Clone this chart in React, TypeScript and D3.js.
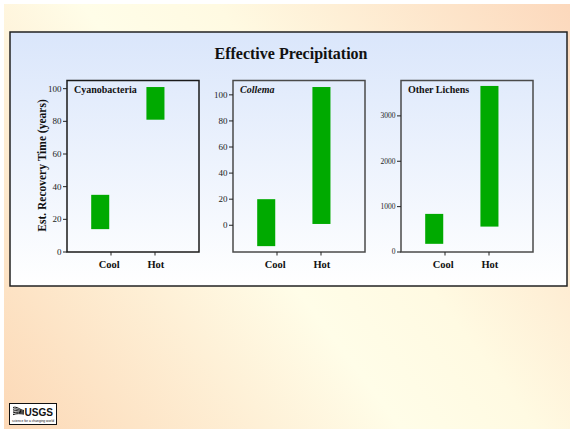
import React from "react";
import * as d3 from "d3";

// Recovery time ranges (years) under cool vs hot effective precipitation
const categories = ["Cool", "Hot"];

const cyanoLow = [14, 81];
const cyanoHigh = [35, 101];
const cyanoTicks = [0, 20, 40, 60, 80, 100];

const collemaLow = [-16, 1];
const collemaHigh = [20, 106];
const collemaTicks = [0, 20, 40, 60, 80, 100];

const lichenLow = [180, 560];
const lichenHigh = [840, 3660];
const lichenTicks = [0, 1000, 2000, 3000];

const W = 570;
const H = 429;
const FONT = "'Liberation Serif', 'Times New Roman', serif";
const BAR = "#00aa00";

// layout of each small panel, in category-axis units (0..3)
const BAR_POS = [0.755, 2.01];
const BAR_W = 0.41;
const LABEL_POS = [0.96, 2.02];
const CAT_TICKS = [1, 2];

type PanelProps = {
  left: number;
  title: string;
  italic?: boolean;
  low: number[];
  high: number[];
  ticks: number[];
  domain: [number, number];
  tickFont: number;
  frame: string;
};

function Panel({ left, title, italic, low, high, ticks, domain, tickFont, frame }: PanelProps) {
  const top = 80.5;
  const bottom = 252;
  const width = 132;
  const x = d3.scaleLinear().domain([0, 3]).range([left, left + width]);
  const y = d3.scaleLinear().domain(domain).range([bottom, top]);
  const bw = x(BAR_W) - x(0);
  return (
    <g>
      {categories.map((c, i) => (
        <rect
          key={c}
          x={x(BAR_POS[i]) - bw / 2}
          y={y(high[i])}
          width={bw}
          height={y(low[i]) - y(high[i])}
          fill={BAR}
        />
      ))}
      <rect x={left} y={top} width={width} height={bottom - top} fill="none" stroke={frame} strokeWidth={1.5} />
      {ticks.map((t) => (
        <g key={t}>
          <line x1={left - 4} x2={left} y1={y(t)} y2={y(t)} stroke="#222" strokeWidth={1} />
          <text
            x={left - 5.5}
            y={y(t)}
            dy="0.33em"
            textAnchor="end"
            fontFamily={FONT}
            fontSize={tickFont}
            fill="#222"
          >
            {t}
          </text>
        </g>
      ))}
      {CAT_TICKS.map((t) => (
        <line key={t} x1={x(t)} x2={x(t)} y1={bottom} y2={bottom + 3.5} stroke="#222" strokeWidth={1} />
      ))}
      {categories.map((c, i) => (
        <text
          key={c}
          x={x(LABEL_POS[i])}
          y={268}
          textAnchor="middle"
          fontFamily={FONT}
          fontWeight="bold"
          fontSize={10.5}
          fill="#111"
        >
          {c}
        </text>
      ))}
      <text
        x={left + 7}
        y={92.5}
        fontFamily={FONT}
        fontWeight="bold"
        fontStyle={italic ? "italic" : "normal"}
        fontSize={10}
        fill="#111"
      >
        {title}
      </text>
    </g>
  );
}

function UsgsLogo() {
  const waves = [0, 1, 2, 3, 4];
  return (
    <g>
      <rect x={9.5} y={403.5} width={47} height={21} fill="#fff" stroke="#111" strokeWidth={1} />
      {waves.map((k) => (
        <path
          key={k}
          d={`M13,${407.5 + k * 1.8} C17,${407.5 + k * 1.8 - 1.5} 20,${410 + k * 0.9} 24,${410.5 + k * 0.9}`}
          fill="none"
          stroke="#111"
          strokeWidth={1}
        />
      ))}
      <text
        x={24.5}
        y={415.8}
        fontFamily="'Liberation Sans', Arial, sans-serif"
        fontWeight="bold"
        fontSize={10}
        textLength={28.5}
        lengthAdjust="spacingAndGlyphs"
        fill="#111"
      >
        USGS
      </text>
      <text
        x={12}
        y={421.5}
        fontFamily="'Liberation Sans', Arial, sans-serif"
        fontSize={3}
        textLength={42}
        lengthAdjust="spacingAndGlyphs"
        fill="#111"
      >
        science for a changing world
      </text>
    </g>
  );
}

export default function App() {
  return (
    <svg
      width={W}
      height={H}
      viewBox={`0 0 ${W} ${H}`}
      style={{ position: "absolute", left: 0, top: 0, display: "block" }}
    >
      <defs>
        <linearGradient id="pageBg" gradientUnits="userSpaceOnUse" x1={0} y1={H} x2={W} y2={0}>
          <stop offset="0" stopColor="#fcd8b6" />
          <stop offset="0.45" stopColor="#fffde8" />
          <stop offset="0.6" stopColor="#fffae2" />
          <stop offset="1" stopColor="#fcd8bc" />
        </linearGradient>
        <linearGradient id="panelBg" x1={0} y1={0} x2={0} y2={1}>
          <stop offset="0" stopColor="#dae6fb" />
          <stop offset="1" stopColor="#ffffff" />
        </linearGradient>
      </defs>
      <rect x={0} y={0} width={W} height={H} fill="#fff" />
      <rect x={4} y={4} width={W - 4} height={H - 4} fill="url(#pageBg)" />
      <rect x={10} y={32} width={557} height={254} fill="url(#panelBg)" stroke="#222" strokeWidth={1.5} />
      <text
        x={291}
        y={59}
        textAnchor="middle"
        fontFamily={FONT}
        fontWeight="bold"
        fontSize={16}
        fill="#111"
      >
        Effective Precipitation
      </text>
      <text
        transform="translate(45.5,165.5) rotate(-90)"
        textAnchor="middle"
        fontFamily={FONT}
        fontWeight="bold"
        fontSize={11.5}
        fill="#111"
      >
        Est. Recovery Time (years)
      </text>
      <Panel
        left={67}
        title="Cyanobacteria"
        low={cyanoLow}
        high={cyanoHigh}
        ticks={cyanoTicks}
        domain={[0, 105]}
        tickFont={9}
        frame="#1a1a1a"
      />
      <Panel
        left={233}
        title="Collema"
        italic
        low={collemaLow}
        high={collemaHigh}
        ticks={collemaTicks}
        domain={[-20.5, 111]}
        tickFont={9}
        frame="#4a4a4a"
      />
      <Panel
        left={401}
        title="Other Lichens"
        low={lichenLow}
        high={lichenHigh}
        ticks={lichenTicks}
        domain={[0, 3780]}
        tickFont={7.5}
        frame="#4a4a4a"
      />
      <UsgsLogo />
    </svg>
  );
}
